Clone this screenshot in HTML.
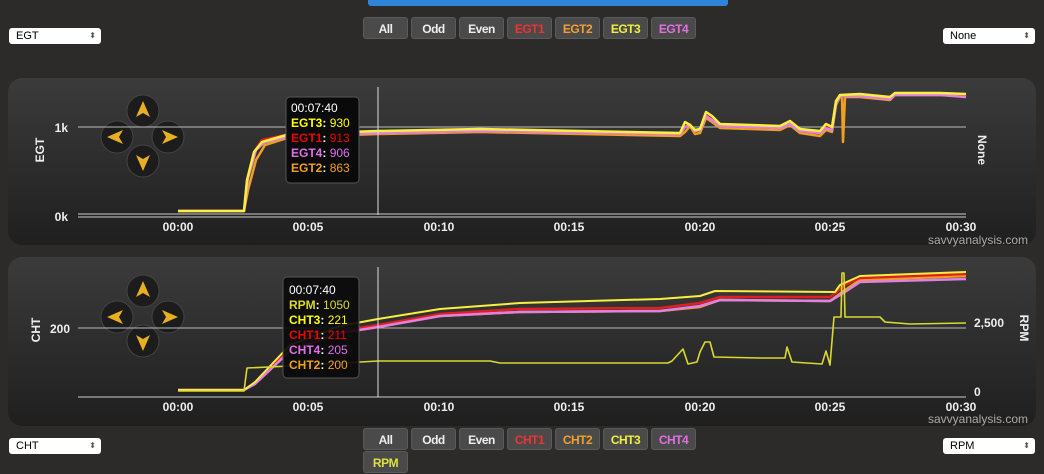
<!DOCTYPE html><html><head><style>
body{margin:0;width:1044px;height:472px;background:#2c2b29;overflow:hidden;font-family:"Liberation Sans",sans-serif;position:relative}
.btn{position:absolute;height:22px;width:45px;background:#4a4a4a;border:1px solid #5a5a5a;border-radius:3px;color:#eee;font-size:12px;font-weight:bold;text-align:center;line-height:22px;box-sizing:border-box;letter-spacing:-0.5px}
.sel{position:absolute;width:92px;height:16px;background:#fff;border-radius:3px;font-size:11px;color:#000;line-height:16px;padding-left:7px;box-sizing:border-box}
.sel:after{content:"⬍";position:absolute;right:5px;font-size:8px;color:#555}
.panel{position:absolute;left:8px;width:1028px;border-radius:14px;background:linear-gradient(#3b3b3b,#1f1f1f)}
svg{position:absolute;left:0;top:0}
</style></head><body>
<div style="position:absolute;left:368px;top:0;width:360px;height:6px;background:#2f84d8;border-radius:0 0 3px 3px"></div>
<div class="btn" style="left:363px;top:17px">All</div><div class="btn" style="left:411px;top:17px">Odd</div><div class="btn" style="left:459px;top:17px">Even</div>
<div class="btn" style="left:507px;top:17px;color:#e33">EGT1</div><div class="btn" style="left:555px;top:17px;color:#f0a030">EGT2</div><div class="btn" style="left:603px;top:17px;color:#f0f040">EGT3</div><div class="btn" style="left:651px;top:17px;color:#e070e0">EGT4</div>
<div class="sel" style="left:9px;top:28px">EGT</div><div class="sel" style="left:943px;top:28px">None</div>
<div class="panel" style="top:78px;height:167px"></div>
<div class="panel" style="top:257px;height:169px"></div>
<div class="btn" style="left:363px;top:428px">All</div><div class="btn" style="left:411px;top:428px">Odd</div><div class="btn" style="left:459px;top:428px">Even</div>
<div class="btn" style="left:507px;top:428px;color:#e33">CHT1</div><div class="btn" style="left:555px;top:428px;color:#f0a030">CHT2</div><div class="btn" style="left:603px;top:428px;color:#f0f040">CHT3</div><div class="btn" style="left:651px;top:428px;color:#e070e0">CHT4</div>
<div class="btn" style="left:363px;top:451px;color:#dde040">RPM</div>
<div class="sel" style="left:9px;top:438px">CHT</div><div class="sel" style="left:943px;top:438px">RPM</div>
<svg width="1044" height="472" font-family="Liberation Sans,sans-serif">
<defs><g id="pad">
<g fill="#1c1c1c" stroke="#444" stroke-width="1"><circle cx="143" cy="111" r="16"/><circle cx="117" cy="137" r="16"/><circle cx="168" cy="137" r="16"/><circle cx="143" cy="161" r="16"/></g>
<g fill="#e8b020"><path d="M143 101 l-7 16 l7-4 l7 4z"/><path d="M143 171 l-7-16 l7 4 l7-4z"/><path d="M107 137 l16-7 l-4 7 l4 7z"/><path d="M178 137 l-16-7 l4 7 l-4 7z"/></g></g></defs>
<use href="#pad"/>
<line x1="78" y1="127" x2="966" y2="127" stroke="#bbb"/>
<line x1="78" y1="214" x2="966" y2="214" stroke="#ccc"/><line x1="78" y1="217" x2="966" y2="217" stroke="#ccc"/>
<g fill="#eee" font-size="12" font-weight="bold" text-anchor="middle">
<text x="178" y="231">00:00</text><text x="308" y="231">00:05</text><text x="439" y="231">00:10</text><text x="569" y="231">00:15</text><text x="700" y="231">00:20</text><text x="830" y="231">00:25</text><text x="961" y="231">00:30</text>
<text x="68" y="132" text-anchor="end">1k</text><text x="68" y="221" text-anchor="end">0k</text>
<text transform="translate(44,150) rotate(-90)">EGT</text>
<text transform="translate(978,150) rotate(90)">None</text>
<text x="178" y="411">00:00</text><text x="308" y="411">00:05</text><text x="439" y="411">00:10</text><text x="569" y="411">00:15</text><text x="700" y="411">00:20</text><text x="830" y="411">00:25</text><text x="961" y="411">00:30</text>
<text x="70" y="333" text-anchor="end">200</text>
<text x="974" y="327" text-anchor="start">2,500</text><text x="974" y="396" text-anchor="start">0</text>
<text transform="translate(40,330) rotate(-90)">CHT</text>
<text transform="translate(1020,328) rotate(90)">RPM</text>
</g>
<g fill="#aaa" font-size="12" text-anchor="end"><text x="1028" y="244">savvyanalysis.com</text><text x="1028" y="423">savvyanalysis.com</text></g>
<g fill="none" stroke-width="2.5" stroke-linejoin="round">
<polyline stroke="#f0a020" points="178,211 244,211 248,190 256,160 265,145 290,137 378,134 480,132 680,136 685,132 690,126 695,134 700,133 706,118 712,122 720,128 780,130 790,125 800,133 820,136 826,130 832,132 836,105 840,97 842,97 843,142 845,97 860,97 890,100 895,95 940,95 966,96"/>
<polyline stroke="#e02020" points="178,211 244,211 247,180 254,152 262,140 290,134 378,133 480,131 680,134 685,127 690,124 695,131 700,130 706,115 712,119 720,126 780,128 790,123 800,131 820,133 826,127 832,129 836,102 840,96 860,95 890,98 895,94 940,94 966,95"/>
<polyline stroke="#e080e0" points="178,211 244,211 248,178 256,150 265,142 290,136 378,133 480,131 680,134 685,127 690,125 695,131 700,130 706,116 712,120 720,126 780,128 790,124 800,131 820,133 826,128 832,130 836,104 840,96 860,96 890,99 895,95 940,95 966,97"/>
<polyline stroke="#f8f040" points="178,211 244,211 247,180 254,152 262,142 290,134 378,131 480,129 680,133 685,122 690,125 695,130 700,129 706,112 712,116 720,124 780,126 790,121 800,129 820,131 826,124 832,127 836,101 840,95 860,94 890,97 895,93 940,93 966,94"/>
</g>
<line x1="378" y1="87" x2="378" y2="215" stroke="#ddd"/>
<rect x="286" y="97" width="73" height="86" rx="4" fill="#0a0a0a" stroke="#555"/>
<g font-size="12" font-weight="bold">
<text x="291" y="112" fill="#fff" font-weight="normal">00:07:40</text>
<text x="291" y="127" fill="#ff0">EGT3<tspan fill="#fff">:</tspan> <tspan font-weight="normal">930</tspan></text>
<text x="291" y="142" fill="#e00">EGT1<tspan fill="#fff">:</tspan> <tspan font-weight="normal">913</tspan></text>
<text x="291" y="157" fill="#e070e8">EGT4<tspan fill="#fff">:</tspan> <tspan font-weight="normal">906</tspan></text>
<text x="291" y="172" fill="#f0a020">EGT2<tspan fill="#fff">:</tspan> <tspan font-weight="normal">863</tspan></text>
</g>
<g transform="translate(0,180)"><use href="#pad"/></g>
<line x1="78" y1="328" x2="966" y2="328" stroke="#bbb"/>
<line x1="78" y1="397" x2="966" y2="397" stroke="#ccc"/>
<g fill="none" stroke-width="2.5" stroke-linejoin="round">
<polyline stroke="#f0a020" points="178,390 244,390 255,383 290,350 340,333 378,327 440,316 520,312 660,311 700,307 720,300 830,301 845,290 860,280 966,276"/>
<polyline stroke="#e02020" points="178,390 244,390 255,383 290,349 340,331 378,325 440,314 520,309 660,308 700,303 720,297 830,297 845,285 860,278 966,274"/>
<polyline stroke="#e080e0" points="178,390 244,390 255,384 290,351 340,333 378,327 440,316 520,312 660,311 700,306 720,300 830,301 845,292 860,282 966,279"/>
<polyline stroke="#f8f040" stroke-width="2" points="178,390 244,390 255,382 290,345 340,326 378,319 440,309 520,303 660,299 700,296 715,291 835,292 840,285 860,276 966,272"/>
<polyline stroke="#d8d830" stroke-width="1.6" points="178,391 244,391 247,368 290,366 378,361 490,361 500,363 668,363 672,361 683,349 688,364 697,362 700,352 705,342 710,342 714,357 760,358 785,358 787,347 792,362 822,364 826,351 830,365 834,317 841,317 842,273 844,273 845,317 880,317 885,322 910,324 966,323"/>
</g>
<line x1="378" y1="267" x2="378" y2="397" stroke="#ddd"/>
<rect x="283" y="277" width="76" height="101" rx="4" fill="#0a0a0a" fill-opacity="0.92" stroke="#555"/>
<g font-size="12" font-weight="bold">
<text x="289" y="294" fill="#fff" font-weight="normal">00:07:40</text>
<text x="289" y="309" fill="#d8d830">RPM<tspan fill="#fff">:</tspan> <tspan font-weight="normal">1050</tspan></text>
<text x="289" y="324" fill="#ff0">CHT3<tspan fill="#fff">:</tspan> <tspan font-weight="normal">221</tspan></text>
<text x="289" y="339" fill="#e00">CHT1<tspan fill="#fff">:</tspan> <tspan font-weight="normal">211</tspan></text>
<text x="289" y="354" fill="#e070e8">CHT4<tspan fill="#fff">:</tspan> <tspan font-weight="normal">205</tspan></text>
<text x="289" y="369" fill="#f0a020">CHT2<tspan fill="#fff">:</tspan> <tspan font-weight="normal">200</tspan></text>
</g>
</svg>
</body></html>
